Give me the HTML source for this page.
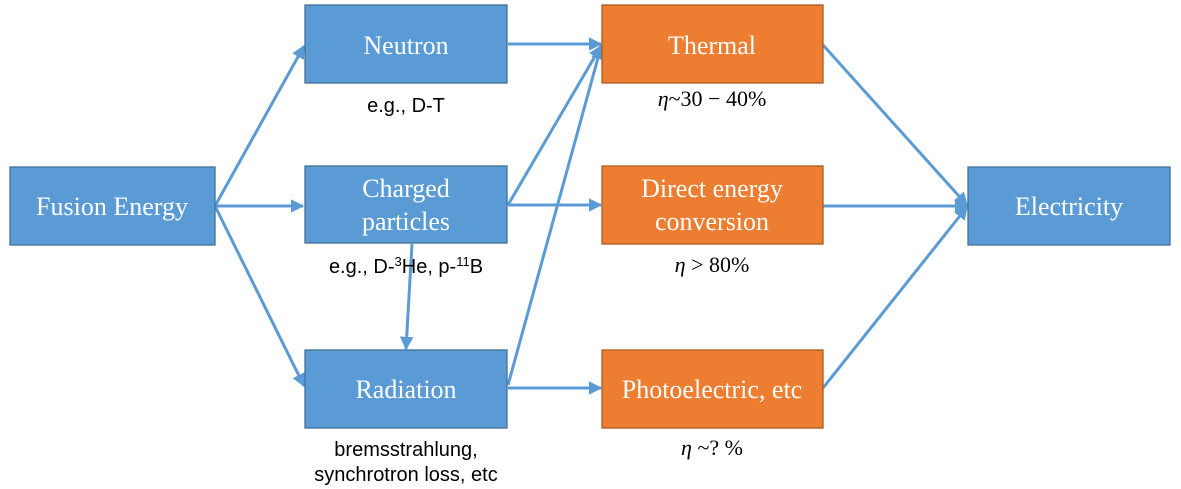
<!DOCTYPE html>
<html><head><meta charset="utf-8">
<style>
html,body{margin:0;padding:0;background:#fff;}
svg{display:block;}
.bt{font-family:"Liberation Serif",serif;font-size:26px;fill:#fff;text-anchor:middle;}
.lb{font-family:"Liberation Sans","Noto Sans CJK SC",sans-serif;font-size:20px;fill:#000;text-anchor:middle;}
.eta{font-family:"Liberation Serif",serif;font-size:22px;fill:#000;text-anchor:middle;}
</style></head><body>
<svg width="1181" height="489" viewBox="0 0 1181 489" xmlns="http://www.w3.org/2000/svg">
<defs>
<marker id="a" viewBox="0 0 10 10" refX="9" refY="5" markerWidth="4.5" markerHeight="4.5" orient="auto" markerUnits="strokeWidth">
<path d="M0,0 L10,5 L0,10 z" fill="#5B9BD5"/></marker>
</defs>
<g stroke="#5B9BD5" stroke-width="3" fill="none" marker-end="url(#a)">
<line x1="215" y1="206" x2="304" y2="46"/>
<line x1="215" y1="206" x2="303" y2="206"/>
<line x1="215" y1="206" x2="304" y2="386"/>
<line x1="508" y1="44" x2="601" y2="44"/>
<line x1="508" y1="205" x2="601" y2="46"/>
<line x1="508" y1="385" x2="601" y2="47"/>
<line x1="508" y1="205" x2="601" y2="205"/>
<line x1="412" y1="244" x2="406" y2="349"/>
<line x1="508" y1="388" x2="601" y2="388"/>
<line x1="823" y1="45" x2="967" y2="205"/>
<line x1="823" y1="206" x2="967" y2="206"/>
<line x1="823" y1="388" x2="967" y2="207"/>
</g>
<g stroke="#41719C" stroke-width="1.3" fill="#5B9BD5">
<rect x="10" y="167" width="205" height="78"/>
<rect x="305" y="5" width="202" height="78"/>
<rect x="305" y="166" width="202" height="77"/>
<rect x="305" y="350" width="202" height="78"/>
<rect x="968" y="167" width="202" height="78"/>
</g>
<g stroke="#AE5A21" stroke-width="1.3" fill="#ED7D31">
<rect x="602" y="5" width="221" height="78"/>
<rect x="602" y="166" width="221" height="78"/>
<rect x="602" y="350" width="221" height="78"/>
</g>
<text class="bt" x="112" y="215">Fusion Energy</text>
<text class="bt" x="406" y="54">Neutron</text>
<text class="bt" x="406" y="197">Charged</text>
<text class="bt" x="406" y="230">particles</text>
<text class="bt" x="406" y="398">Radiation</text>
<text class="bt" x="712" y="54">Thermal</text>
<text class="bt" x="712" y="197">Direct energy</text>
<text class="bt" x="712" y="230">conversion</text>
<text class="bt" x="712" y="398">Photoelectric, etc</text>
<text class="bt" x="1069" y="215">Electricity</text>
<text class="lb" x="406" y="112">e.g., D-T</text>
<text class="lb" x="406" y="273">e.g., D-<tspan dy="-7" font-size="13">3</tspan><tspan dy="7">He, p-</tspan><tspan dy="-7" font-size="13">11</tspan><tspan dy="7">B</tspan></text>
<text class="lb" x="406" y="456">bremsstrahlung,</text>
<text class="lb" x="406" y="481">synchrotron loss, etc</text>
<text class="eta" x="712" y="106"><tspan font-style="italic">η</tspan>~30 − 40%</text>
<text class="eta" x="712" y="272"><tspan font-style="italic">η</tspan> &gt; 80%</text>
<text class="eta" x="712" y="455"><tspan font-style="italic">η</tspan> ~? %</text>
</svg>
</body></html>
